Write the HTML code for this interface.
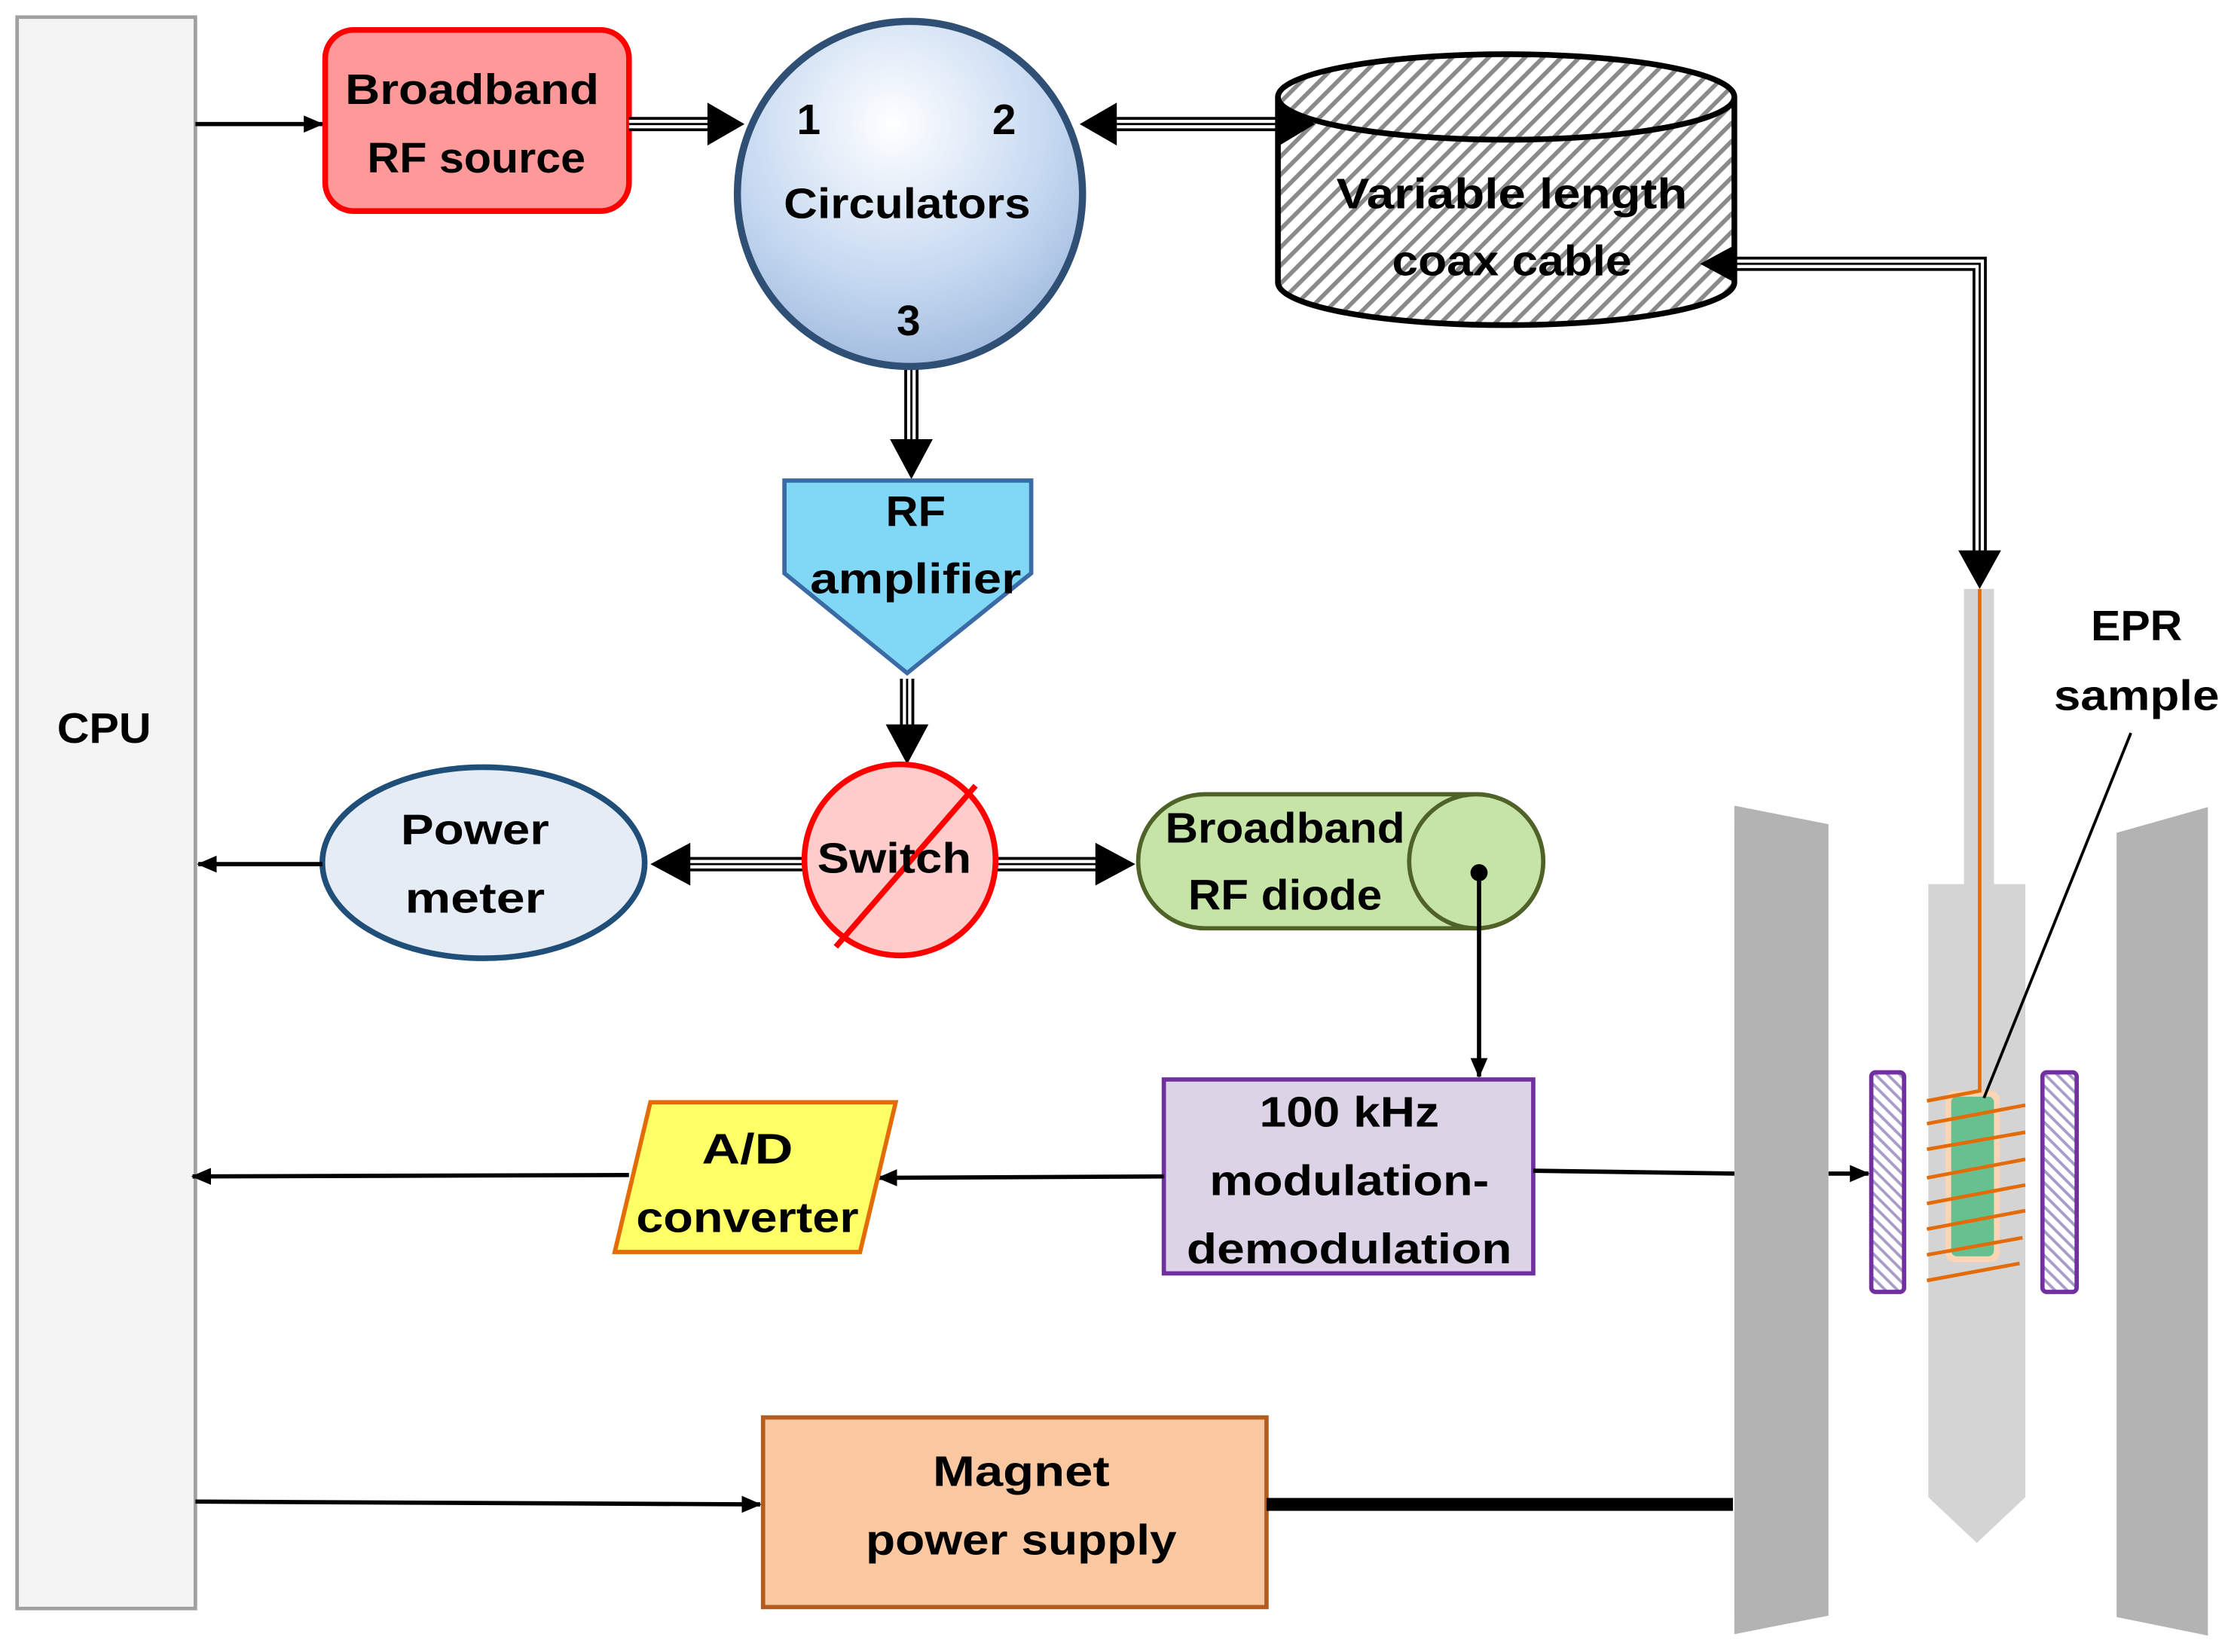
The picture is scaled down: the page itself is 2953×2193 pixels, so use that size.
<!DOCTYPE html>
<html><head><meta charset="utf-8"><style>html,body{margin:0;padding:0;background:#fff}svg{display:block}</style></head>
<body>
<svg xmlns="http://www.w3.org/2000/svg" width="2953" height="2193" viewBox="0 0 1560 1158.5" preserveAspectRatio="none">
<defs>
<radialGradient id="cg" cx="0.45" cy="0.3" r="0.75">
<stop offset="0" stop-color="#ffffff"/><stop offset="0.6" stop-color="#c6d9f1"/><stop offset="1" stop-color="#9db8dc"/>
</radialGradient>
<pattern id="hatch" width="9" height="9" patternUnits="userSpaceOnUse" patternTransform="rotate(45)">
<rect width="9" height="9" fill="#fff"/><rect width="3" height="9" fill="#8a8a8a"/>
</pattern>
<pattern id="phatch" width="6" height="6" patternUnits="userSpaceOnUse" patternTransform="rotate(-45)">
<rect width="6" height="6" fill="#fff"/><rect width="2" height="6" fill="#a99bc8"/>
</pattern>
<marker id="ah" markerWidth="14" markerHeight="12" refX="13" refY="6" orient="auto" markerUnits="userSpaceOnUse"><path d="M0,0 L14,6 L0,12 z" fill="#000"/></marker>
</defs>
<style>
text{font-family:"Liberation Sans",sans-serif;font-weight:bold;font-size:30px;fill:#000;text-anchor:middle}
.l{stroke:#000;stroke-width:3;fill:none}
</style>

<!-- CPU -->
<rect x="12" y="12" width="125" height="1116" fill="#f4f4f4" stroke="#a0a0a0" stroke-width="2.5"/>
<text x="73" y="521" textLength="66" lengthAdjust="spacingAndGlyphs">CPU</text>

<!-- RF source -->
<rect x="228" y="21" width="213" height="127" rx="20" fill="#ff9999" stroke="#ff0000" stroke-width="4"/>
<text x="331" y="73" textLength="178" lengthAdjust="spacingAndGlyphs">Broadband</text>
<text x="334" y="121" textLength="153" lengthAdjust="spacingAndGlyphs">RF source</text>
<line x1="137" y1="87" x2="226" y2="87" class="l" marker-end="url(#ah)"/>

<g fill="none">
<path d="M441,87 H500" stroke="#000" stroke-width="10"/><path d="M441,87 H500" stroke="#fff" stroke-width="6"/><path d="M441,87 H500" stroke="#000" stroke-width="1.5"/>
<path d="M783,87 H897" stroke="#000" stroke-width="10"/><path d="M783,87 H897" stroke="#fff" stroke-width="6"/><path d="M783,87 H897" stroke="#000" stroke-width="1.5"/>
<path d="M1215,185 H1388 V390" stroke="#000" stroke-width="10"/><path d="M1215,185 H1388 V390" stroke="#fff" stroke-width="6"/><path d="M1215,185 H1388 V390" stroke="#000" stroke-width="1.5"/>
<path d="M639,256 V312" stroke="#000" stroke-width="10"/><path d="M639,256 V312" stroke="#fff" stroke-width="6"/><path d="M639,256 V312" stroke="#000" stroke-width="1.5"/>
<path d="M636,476 V512" stroke="#000" stroke-width="10"/><path d="M636,476 V512" stroke="#fff" stroke-width="6"/><path d="M636,476 V512" stroke="#000" stroke-width="1.5"/>
<path d="M563,606 H480" stroke="#000" stroke-width="10"/><path d="M563,606 H480" stroke="#fff" stroke-width="6"/><path d="M563,606 H480" stroke="#000" stroke-width="1.5"/>
<path d="M699,606 H772" stroke="#000" stroke-width="10"/><path d="M699,606 H772" stroke="#fff" stroke-width="6"/><path d="M699,606 H772" stroke="#000" stroke-width="1.5"/>
</g>

<!-- Circulator -->
<circle cx="638" cy="136" r="121" fill="url(#cg)" stroke="#2f4f75" stroke-width="5"/>
<text x="567" y="94">1</text>
<text x="704" y="94">2</text>
<text x="636" y="153" textLength="173" lengthAdjust="spacingAndGlyphs">Circulators</text>
<text x="637" y="235">3</text>

<!-- Coax cylinder -->
<path d="M896,68 V198 A160,30 0 0 0 1216,198 V68" fill="url(#hatch)" stroke="#000" stroke-width="4"/>
<ellipse cx="1056" cy="68" rx="160" ry="30" fill="url(#hatch)" stroke="#000" stroke-width="4"/>
<text x="1060" y="146" textLength="246" lengthAdjust="spacingAndGlyphs">Variable length</text>
<text x="1060" y="193" textLength="168" lengthAdjust="spacingAndGlyphs">coax cable</text>

<!-- big arrowheads -->
<path d="M496,72 L522,87 L496,102 z"/>
<path d="M783,72 L757,87 L783,102 z"/>
<path d="M897,72 L922,87 L897,102 z"/>
<path d="M1216,172 L1192,185 L1216,198 z"/>
<path d="M1373,386 L1388,413 L1403,386 z"/>
<path d="M624,308 L639,336 L654,308 z"/>
<path d="M621,508 L636,536 L651,508 z"/>
<path d="M484,591 L456,606 L484,621 z"/>
<path d="M768,591 L796,606 L768,621 z"/>

<!-- RF amplifier -->
<path d="M550,337 H723 V402 L636,472 L550,402 z" fill="#80d8f6" stroke="#3a6ba4" stroke-width="3"/>
<text x="642" y="369" textLength="42" lengthAdjust="spacingAndGlyphs">RF</text>
<text x="642" y="416" textLength="148" lengthAdjust="spacingAndGlyphs">amplifier</text>

<!-- Switch -->
<circle cx="631" cy="603" r="67" fill="#ffcccc" stroke="#ff0000" stroke-width="4"/>
<line x1="586" y1="664" x2="684" y2="551" stroke="#ff0000" stroke-width="4"/>
<text x="627" y="612" textLength="108" lengthAdjust="spacingAndGlyphs">Switch</text>

<!-- Power meter -->
<ellipse cx="339" cy="605" rx="113" ry="67" fill="#e6ecf6" stroke="#1f4e79" stroke-width="4"/>
<text x="333" y="592" textLength="104" lengthAdjust="spacingAndGlyphs">Power</text>
<text x="333" y="640" textLength="98" lengthAdjust="spacingAndGlyphs">meter</text>
<line x1="226" y1="606" x2="139" y2="606" class="l" marker-end="url(#ah)"/>

<!-- Diode cylinder -->
<path d="M845,557 H1035 A47,47 0 0 1 1035,651 H845 A47,47 0 0 1 845,557 z" fill="#c6e4a6" stroke="#4f6228" stroke-width="3"/>
<ellipse cx="1035" cy="604" rx="47" ry="47" fill="#c6e4a6" stroke="#4f6228" stroke-width="3"/>
<text x="901" y="591" textLength="168" lengthAdjust="spacingAndGlyphs">Broadband</text>
<text x="901" y="638" textLength="136" lengthAdjust="spacingAndGlyphs">RF diode</text>
<circle cx="1037" cy="612" r="6" fill="#000"/>
<line x1="1037" y1="612" x2="1037" y2="755" class="l" marker-end="url(#ah)"/>

<!-- Modulation box -->
<rect x="816" y="757" width="259" height="136" fill="#dcd3e7" stroke="#7030a0" stroke-width="3"/>
<text x="946" y="790" textLength="126" lengthAdjust="spacingAndGlyphs">100 kHz</text>
<text x="946" y="838" textLength="196" lengthAdjust="spacingAndGlyphs">modulation-</text>
<text x="946" y="886" textLength="228" lengthAdjust="spacingAndGlyphs">demodulation</text>
<line x1="816" y1="825" x2="616" y2="826" class="l" marker-end="url(#ah)"/>
<line x1="1075" y1="821" x2="1217" y2="823" class="l"/>
<line x1="1282" y1="823" x2="1310" y2="823" class="l" marker-end="url(#ah)"/>

<!-- A/D -->
<path d="M456,773 H628 L603,878 H431 z" fill="#ffff66" stroke="#e36c09" stroke-width="3"/>
<text x="524" y="816" textLength="64" lengthAdjust="spacingAndGlyphs">A/D</text>
<text x="524" y="864" textLength="156" lengthAdjust="spacingAndGlyphs">converter</text>
<line x1="441" y1="824" x2="135" y2="825" class="l" marker-end="url(#ah)"/>

<!-- Magnet power supply -->
<rect x="535" y="994" width="353" height="133" fill="#f9c8a0" stroke="#b35c1e" stroke-width="3"/>
<text x="716" y="1042" textLength="124" lengthAdjust="spacingAndGlyphs">Magnet</text>
<text x="716" y="1090" textLength="218" lengthAdjust="spacingAndGlyphs">power supply</text>
<line x1="137" y1="1053" x2="533" y2="1055" class="l" marker-end="url(#ah)"/>
<line x1="888" y1="1055" x2="1215" y2="1055" stroke="#000" stroke-width="9"/>

<!-- Magnet poles -->
<path d="M1216,565 L1282,578 L1282,1133 L1216,1146 z" fill="#b3b3b3"/>
<path d="M1484,584 L1548,566 L1548,1147 L1484,1134 z" fill="#b3b3b3"/>

<!-- Probe -->
<rect x="1377" y="413" width="21" height="210" fill="#d4d4d4"/>
<path d="M1352,620 H1420 V1050 L1386,1082 L1352,1050 z" fill="#d4d4d4"/>
<rect x="1364" y="765" width="38" height="120" rx="6" fill="#fcd5b4"/>
<rect x="1368" y="769" width="30" height="112" rx="4" fill="#66c090"/>
<path d="M1388,413 V765 L1351,772" stroke="#e36c09" stroke-width="2.5" fill="none"/>
<g stroke="#e36c09" stroke-width="2.5">
<line x1="1351" y1="788" x2="1420" y2="775"/>
<line x1="1351" y1="806" x2="1420" y2="794"/>
<line x1="1351" y1="826" x2="1420" y2="813"/>
<line x1="1351" y1="844" x2="1420" y2="831"/>
<line x1="1351" y1="862" x2="1420" y2="849"/>
<line x1="1351" y1="880" x2="1418" y2="868"/>
<line x1="1351" y1="898" x2="1416" y2="886"/>
</g>
<rect x="1312" y="752" width="23" height="154" rx="3" fill="url(#phatch)" stroke="#7030a0" stroke-width="3"/>
<rect x="1432" y="752" width="24" height="154" rx="3" fill="url(#phatch)" stroke="#7030a0" stroke-width="3"/>

<!-- EPR label -->
<text x="1498" y="449" textLength="64" lengthAdjust="spacingAndGlyphs">EPR</text>
<text x="1498" y="498" textLength="116" lengthAdjust="spacingAndGlyphs">sample</text>
<line x1="1494" y1="514" x2="1391" y2="770" stroke="#000" stroke-width="2"/>
</svg>
</body></html>
